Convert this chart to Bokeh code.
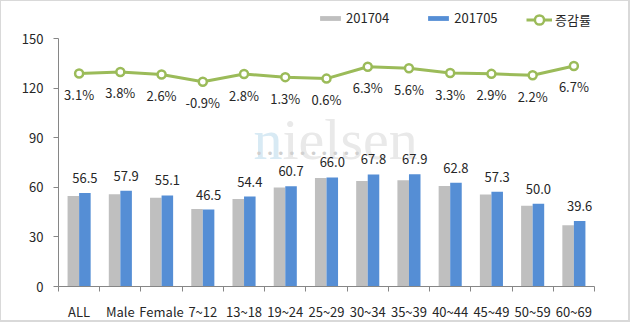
from bokeh.plotting import figure
from bokeh.models import (ColumnDataSource, Range1d, LinearAxis, FixedTicker,
                          LabelSet, Legend, LegendItem, Label)
from bokeh.core.properties import value
from bokeh.embed import file_html
from bokeh.resources import INLINE

# ---- data ----
categories = ["ALL", "Male", "Female", "7~12", "13~18", "19~24", "25~29",
              "30~34", "35~39", "40~44", "45~49", "50~59", "60~69"]
values_201704 = [54.8, 55.8, 53.7, 46.9, 52.9, 59.9, 65.6, 63.8, 64.3, 60.8, 55.7, 48.9, 37.1]
values_201705 = [56.5, 57.9, 55.1, 46.5, 54.4, 60.7, 66.0, 67.8, 67.9, 62.8, 57.3, 50.0, 39.6]
growth_rate = [3.1, 3.8, 2.6, -0.9, 2.8, 1.3, 0.6, 6.3, 5.6, 3.3, 2.9, 2.2, 6.7]
y_ticks = [0, 30, 60, 90, 120, 150]
series_names = ["201704", "201705", "증감률"]

FONT = "Noto Sans CJK KR"
TXT = "#262626"
AXIS = "#868686"
GRAY = "#bfbfbf"
BLUE = "#558ed5"
GREEN = "#9bbb59"

n = len(categories)
idx = list(range(n))
bw = 0.28
src = ColumnDataSource(dict(
    x=idx,
    x_apr=[i - bw / 2 for i in idx],
    x_may=[i + bw / 2 for i in idx],
    apr=values_201704,
    may=values_201705,
    rate=growth_rate,
    may_lbl=[f"{v:.1f}" for v in values_201705],
    rate_lbl=[f"{r:.1f}%" for r in growth_rate],
))

W, H = 630, 322          # outer size incl. border (border-box)
MB_L, MB_R, MB_B = 57, 37, 34
frame_h = (H - 3) - MB_B
y_max = 150 * frame_h / 248
r_max = -100 + 120 * frame_h / 248

p = figure(width=W, height=H, output_backend="svg", toolbar_location=None,
           x_range=Range1d(-0.5, n - 0.5), y_range=Range1d(0, y_max),
           min_border_left=MB_L, min_border_right=MB_R, min_border_top=0,
           min_border_bottom=MB_B, x_axis_type=None, y_axis_type=None)
p.extra_y_ranges = {"rate": Range1d(-100, r_max)}
p.outline_line_color = None
p.background_fill_color = "white"
p.border_fill_color = "white"
p.styles = {"border-style": "solid", "border-color": "#d9d9d9",
            "border-width": "1px 2px 2px 1px"}

# watermark
p.add_layout(Label(x=195, y=147, x_units="screen", y_units="screen", text="n",
                   text_font="Liberation Serif", text_font_size="58px",
                   text_color="#d8eaf4", text_baseline="alphabetic", level="underlay"))
p.add_layout(Label(x=224, y=147, x_units="screen", y_units="screen", text="ielsen",
                   text_font="Liberation Serif", text_font_size="58px",
                   text_color="#e9e9e9", text_baseline="alphabetic", level="underlay"))
p.add_layout(Label(x=197, y=133, x_units="screen", y_units="screen",
                   text="  ".join(["•"] * 10),
                   text_font="DejaVu Sans", text_font_size="12px",
                   text_color="#d0d0d0", text_baseline="middle", level="underlay"))

r_apr = p.vbar(x="x_apr", top="apr", width=bw, source=src, fill_color=GRAY, line_color=None)
r_may = p.vbar(x="x_may", top="may", width=bw, source=src, fill_color=BLUE, line_color=None)
r_line = p.line(x="x", y="rate", source=src, y_range_name="rate", line_color=GREEN, line_width=3)
r_pts = p.scatter(x="x", y="rate", source=src, y_range_name="rate", size=8,
                  fill_color="white", line_color=GREEN, line_width=2.5)

p.add_layout(LabelSet(x="x_may", y="may", text="may_lbl", source=src, y_offset=15,
                      text_align="center", text_baseline="middle", text_font=value(FONT),
                      text_font_size="13px", text_color=TXT))
p.add_layout(LabelSet(x="x", y="rate", text="rate_lbl", source=src, y_range_name="rate",
                      y_offset=-21, text_align="center", text_baseline="middle",
                      text_font=value(FONT), text_font_size="13px", text_color=TXT))

yaxis = LinearAxis(ticker=FixedTicker(ticks=y_ticks), bounds=(0, 150),
                   axis_line_color=AXIS, major_tick_line_color=AXIS,
                   major_tick_in=0, major_tick_out=5, minor_tick_line_color=None,
                   major_label_text_font=FONT, major_label_text_font_size="13px",
                   major_label_text_color=TXT, major_label_standoff=10)
p.add_layout(yaxis, "left")

xaxis = LinearAxis(ticker=FixedTicker(ticks=idx, minor_ticks=[i - 0.5 for i in range(n + 1)]),
                   major_label_overrides={i: c for i, c in enumerate(categories)},
                   axis_line_color=AXIS, major_tick_line_color=None,
                   major_tick_in=0, major_tick_out=0,
                   minor_tick_line_color=AXIS, minor_tick_in=0, minor_tick_out=5,
                   major_label_text_font=FONT, major_label_text_font_size="13px",
                   major_label_text_color=TXT, major_label_standoff=10)
p.add_layout(xaxis, "below")

common = dict(orientation="horizontal", padding=0, margin=0, border_line_color=None,
              background_fill_alpha=0, label_text_font=FONT, label_text_font_size="13px",
              label_text_color=TXT, label_standoff=3, spacing=36, label_height=14,
              glyph_width=26)
leg1 = Legend(items=[LegendItem(label=series_names[0], renderers=[r_apr]),
                     LegendItem(label=series_names[1], renderers=[r_may])],
              location=(259, 259), glyph_height=6, **common)
leg2 = Legend(items=[LegendItem(label=series_names[2], renderers=[r_line, r_pts])],
              location=(468, 255), glyph_height=23, **common)
p.add_layout(leg1)
p.add_layout(leg2)

open("out.html", "w").write(file_html(p, INLINE))
